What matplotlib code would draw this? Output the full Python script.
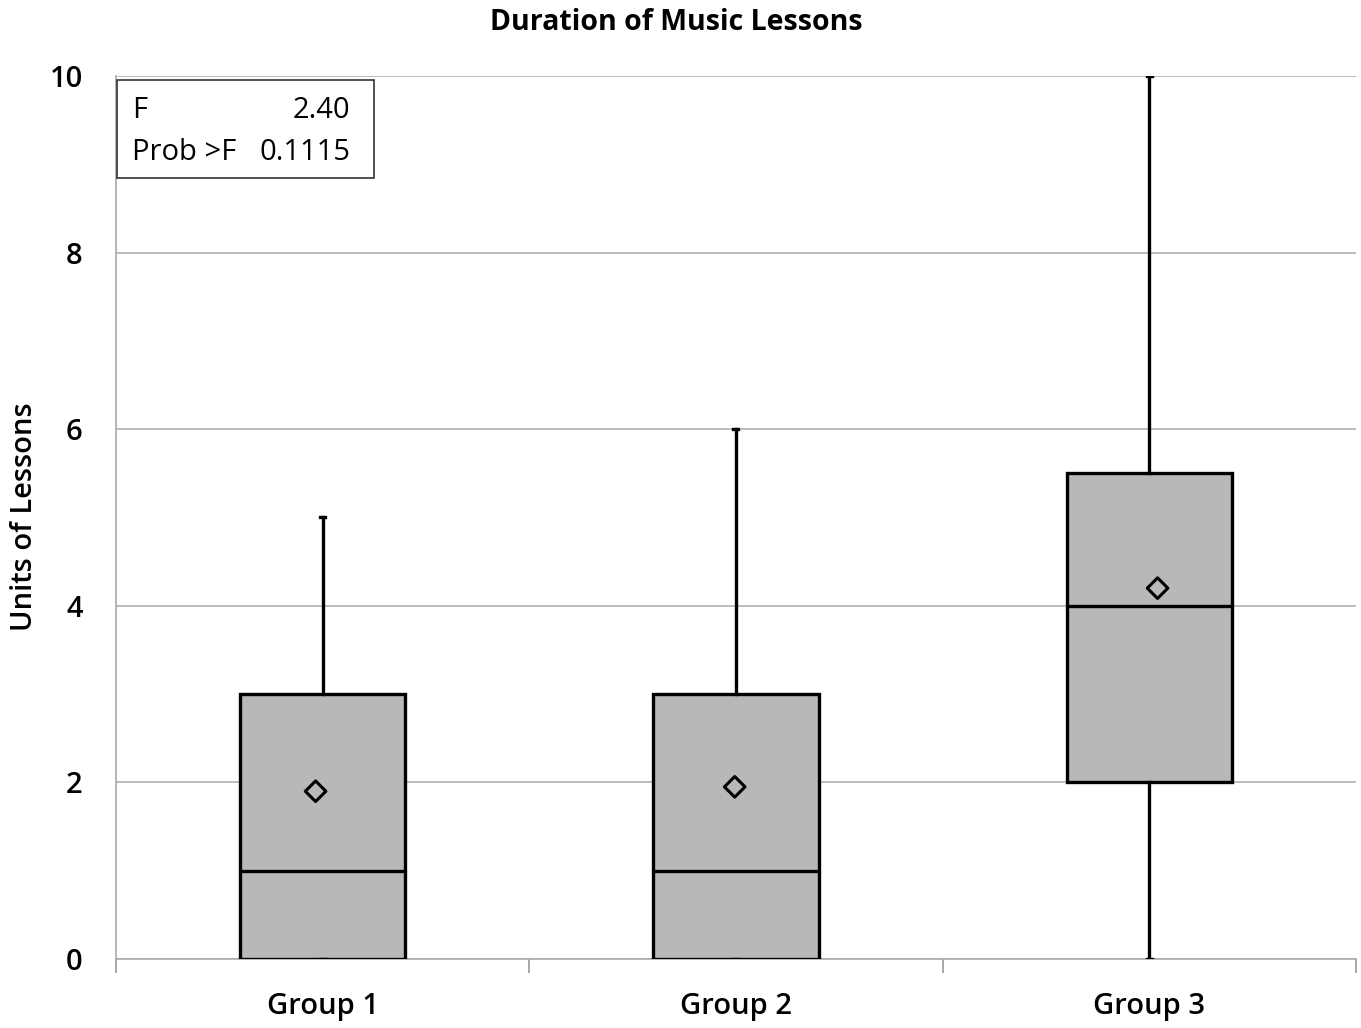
import matplotlib.pyplot as plt
from matplotlib.patches import Rectangle

plt.rcParams['font.family'] = ['Open Sans', 'DejaVu Sans']

groups = ['Group 1', 'Group 2', 'Group 3']
whislo = [0, 0, 0]
q1 = [0, 0, 2]
median = [1, 1, 4]
q3 = [3, 3, 5.5]
whishi = [5, 6, 10]
means = [1.9, 1.95, 4.2]
mean_x = [0.983, 1.997, 3.02]

fig = plt.figure(figsize=(13.61, 10.28), dpi=100)
ax = fig.add_axes([0.0852, 0.0671, 0.9111, 0.859])

stats = []
for i, g in enumerate(groups):
    stats.append(dict(label=g, whislo=whislo[i], q1=q1[i], med=median[i],
                      q3=q3[i], whishi=whishi[i], fliers=[]))

lw = 2.4
ax.bxp(stats, positions=[1, 2, 3], widths=0.4, patch_artist=True,
       showfliers=False, showmeans=False,
       boxprops=dict(facecolor='#b8b8b8', edgecolor='black', linewidth=lw),
       medianprops=dict(color='black', linewidth=lw),
       whiskerprops=dict(color='black', linewidth=lw),
       capprops=dict(color='black', linewidth=lw),
       capwidths=0.012, zorder=3)

ax.scatter(mean_x, means, marker='D', s=110, facecolor='none',
           edgecolor='black', linewidths=2.2, zorder=4)

ax.set_xlim(0.5, 3.5)
ax.set_ylim(0, 10)
ax.set_yticks([0, 2, 4, 6, 8, 10])
ax.grid(axis='y', color='#b0b0b0', linewidth=1.2, zorder=0)
ax.set_axisbelow(True)

ax.set_xticks([1, 2, 3])
ax.set_xticklabels(groups, fontsize=21, fontweight='semibold')
ax.set_xticks([0.5, 1.5, 2.5, 3.5], minor=True)
ax.tick_params(axis='x', which='major', length=0, pad=24)
ax.tick_params(axis='x', which='minor', length=10, color='#999999', width=1.2, direction='out')
ax.tick_params(axis='y', length=0, labelsize=21, pad=24)
for t in ax.get_yticklabels():
    t.set_fontweight('semibold')

for s in ['top', 'right']:
    ax.spines[s].set_visible(False)
for s in ['left', 'bottom']:
    ax.spines[s].set_color('#aaaaaa')
    ax.spines[s].set_linewidth(1.2)

fig.text(25 / 1361, 0.497, 'Units of Lessons', rotation=90, fontsize=21,
         fontweight='semibold', ha='center', va='center')
fig.text(0.497, 1 - 22 / 1028, 'Duration of Music Lessons', fontsize=20.5,
         fontweight='bold', ha='center', va='center')

# stats inset box
box = Rectangle((0.0008, 0.8845), 0.207, 0.111, transform=ax.transAxes,
                facecolor='white', edgecolor='#333333', linewidth=1.2, zorder=5)
box.set_clip_on(False)
ax.add_patch(box)
ax.text(0.013, 0.961, 'F', transform=ax.transAxes, fontsize=21, va='center', zorder=6)
ax.text(0.189, 0.961, '2.40', transform=ax.transAxes, fontsize=21, va='center', ha='right', zorder=6)
ax.text(0.013, 0.913, 'Prob >F', transform=ax.transAxes, fontsize=21, va='center', zorder=6)
ax.text(0.189, 0.913, '0.1115', transform=ax.transAxes, fontsize=21, va='center', ha='right', zorder=6)

fig.savefig('out.png', dpi=100)
